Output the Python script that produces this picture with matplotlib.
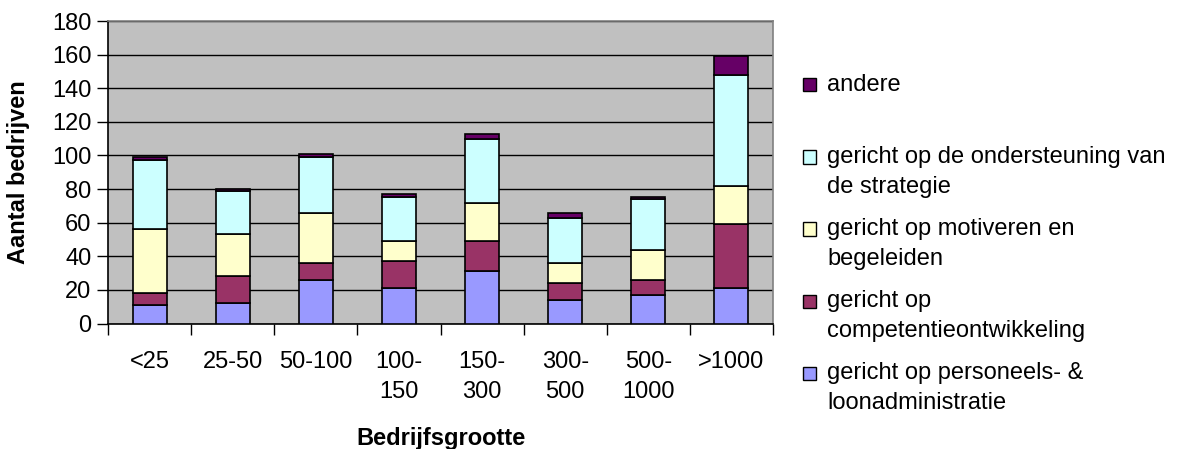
import matplotlib
matplotlib.use("Agg")
import matplotlib.pyplot as plt
from matplotlib.patches import Rectangle
import numpy as np

plt.rcParams['font.family'] = ['Liberation Sans', 'DejaVu Sans']

categories = ["<25", "25-50", "50-100", "100-\n150", "150-\n300", "300-\n500", "500-\n1000", ">1000"]
personeel = [11, 12, 26, 21, 31, 14, 17, 21]
competentie = [7, 16, 10, 16, 18, 10, 9, 38]
motiveren = [38, 25, 30, 12, 23, 12, 18, 23]
strategie = [41, 26, 33, 26, 38, 27, 30, 66]
andere = [2, 1, 2, 2, 3, 3, 1, 11]

series = [
    ("gericht op personeels- &\nloonadministratie", personeel, "#9999FF"),
    ("gericht op\ncompetentieontwikkeling", competentie, "#993366"),
    ("gericht op motiveren en\nbegeleiden", motiveren, "#FFFFCC"),
    ("gericht op de ondersteuning van\nde strategie", strategie, "#CCFFFF"),
    ("andere", andere, "#660066"),
]

FS = 17

fig = plt.figure(figsize=(11.8, 4.49), dpi=100)
ax = fig.add_axes([108/1180, 1 - 323.5/449, (773-108)/1180, (323.5-21)/449])
ax.set_facecolor("#C0C0C0")

x = np.arange(len(categories))
bottom = np.zeros(len(categories))
for label, vals, col in series:
    ax.bar(x, vals, bottom=bottom, width=0.41, color=col, edgecolor="black", linewidth=1.2, zorder=3)
    bottom += np.array(vals)

ax.set_xlim(-0.5, len(categories) - 0.5)
ax.set_ylim(0, 180)
ax.set_yticks(np.arange(0, 181, 20))
ax.yaxis.grid(True, color="black", linewidth=1.0, zorder=1)
ax.set_axisbelow(True)

ax.set_xticks(np.arange(-0.5, len(categories), 1.0))
ax.set_xticklabels([])
ax.set_xticks(x, minor=True)
ax.set_xticklabels(categories, minor=True, fontsize=FS, linespacing=1.45, va="top")
ax.tick_params(axis="x", which="major", direction="out", length=8, width=1, color="black")
ax.tick_params(axis="x", which="minor", length=0, pad=20)
ax.tick_params(axis="y", direction="out", length=8, width=1, labelsize=FS, pad=4)

for s in ["top", "right"]:
    ax.spines[s].set_color("#808080")
    ax.spines[s].set_linewidth(1.2)
for s in ["left", "bottom"]:
    ax.spines[s].set_color("black")
    ax.spines[s].set_linewidth(1.2)

ax.set_ylabel("Aantal bedrijven", fontsize=FS, fontweight="bold")
ax.yaxis.set_label_coords(-78/665, 0.5)
ax.set_xlabel("Bedrijfsgrootte", fontsize=FS, fontweight="bold", labelpad=17)

# Legend (manual, Excel style)
legend_items = list(reversed(series))
y0 = 85
step = 72
for i, (label, vals, col) in enumerate(legend_items):
    yc = y0 + i * step
    fig.patches.append(Rectangle((803/1180, 1 - (yc + 6.5)/449), 13/1180, 13/449,
                                 transform=fig.transFigure, facecolor=col,
                                 edgecolor="black", linewidth=1.0))
    fig.text(827/1180, 1 - (yc - 11)/449, label, fontsize=FS, va="top", ha="left",
             linespacing=1.45)

fig.savefig("out.png", dpi=100)
